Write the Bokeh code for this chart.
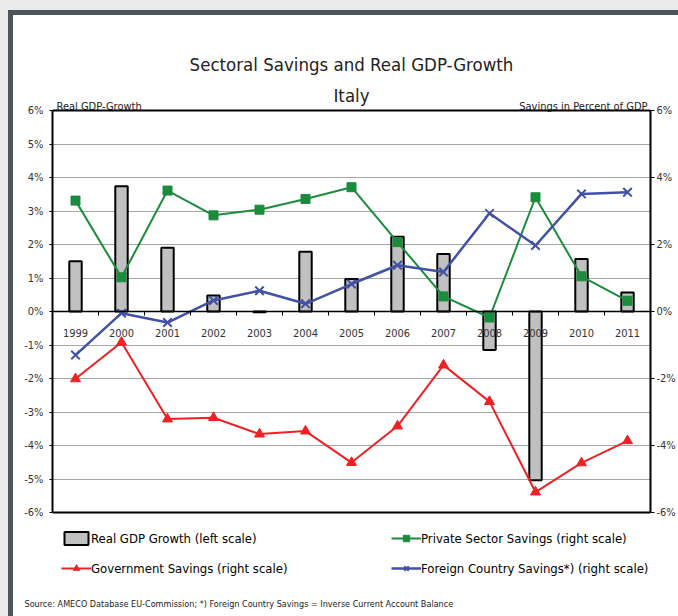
from bokeh.plotting import figure
from bokeh.models import (Range1d, LinearAxis, FixedTicker, Label, Legend,
                          LegendItem, Span)
from bokeh.embed import file_html
from bokeh.resources import INLINE

# ---------------- data ----------------
years = ["1999", "2000", "2001", "2002", "2003", "2004", "2005",
         "2006", "2007", "2008", "2009", "2010", "2011"]
gdp_growth = [1.50, 3.74, 1.90, 0.48, -0.02, 1.78, 0.97, 2.23, 1.72, -1.15, -5.04, 1.57, 0.57]
private_savings = [3.31, 1.02, 3.61, 2.87, 3.04, 3.36, 3.71, 2.07, 0.45, -0.18, 3.41, 1.05, 0.32]
government_savings = [-2.01, -0.92, -3.21, -3.17, -3.66, -3.57, -4.51, -3.42, -1.60, -2.69, -5.39, -4.52, -3.86]
foreign_savings = [-1.30, -0.05, -0.33, 0.33, 0.62, 0.23, 0.82, 1.38, 1.18, 2.93, 1.97, 3.51, 3.56]

left_ticks = [-6, -5, -4, -3, -2, -1, 0, 1, 2, 3, 4, 5, 6]
left_tick_labels = ["-6%", "-5%", "-4%", "-3%", "-2%", "-1%", "0%", "1%", "2%", "3%", "4%", "5%", "6%"]
right_ticks = [-6, -4, -2, 0, 2, 4, 6]
right_tick_labels = ["-6%", "-4%", "-2%", "0%", "2%", "4%", "6%"]

title_text = "Sectoral Savings and Real GDP-Growth"
subtitle_text = "Italy"
left_title = "Real GDP-Growth"
right_title = "Savings in Percent of GDP"
source_text = "Source: AMECO Database EU-Commission; *) Foreign Country Savings = Inverse Current Account Balance"

FONT = "DejaVu Sans Condensed"
GREEN = "#1a8c3c"
RED = "#ee2226"
BLUE = "#4051a6"

# layout (pixels): plot box 110..512 for -6..6, frame extended below for the legend
PX = 12.0 / 402.0
FRAME_TOP_PAD = 2
FRAME_BOTTOM_EXT = 70
Y_LO = -6 - FRAME_BOTTOM_EXT * PX
Y_HI = 6 + FRAME_TOP_PAD * PX

xs = list(range(len(years)))

p = figure(width=678, height=616,
           x_range=Range1d(-0.5, len(years) - 0.5), y_range=Range1d(Y_LO, Y_HI),
           x_axis_location=None,
           output_backend="svg", toolbar_location=None,
           min_border_left=52, min_border_right=28,
           min_border_top=108, min_border_bottom=34,
           background_fill_color="white", border_fill_alpha=0,
           outline_line_alpha=0)
p.styles = {"background-color": "white",
            "box-shadow": "inset 8px 10px 0 0 #ebeaea, inset 13px 15px 0 0 #4b545c"}
p.extra_y_ranges = {"right": Range1d(Y_LO, Y_HI)}

# left axis
ya = p.yaxis[0]
ya.bounds = (-6, 6)
ya.ticker = FixedTicker(ticks=left_ticks)
ya.major_label_overrides = {t: l for t, l in zip(left_ticks, left_tick_labels)}
ya.major_tick_in = 0
ya.major_tick_out = 3
ya.minor_tick_in = 0
ya.minor_tick_out = 0
ya.axis_line_color = "black"
ya.axis_line_width = 2
ya.major_label_standoff = 6
ya.major_label_text_font = FONT
ya.major_label_text_font_size = "11px"
ya.major_label_text_color = "#333333"

# right axis
ra = LinearAxis(y_range_name="right", ticker=FixedTicker(ticks=right_ticks), bounds=(-6, 6))
ra.major_label_overrides = {t: l for t, l in zip(right_ticks, right_tick_labels)}
ra.major_tick_in = 0
ra.major_tick_out = 4
ra.minor_tick_out = 0
ra.minor_tick_in = 0
ra.axis_line_color = "black"
ra.axis_line_width = 2
ra.major_label_standoff = 2
ra.major_label_text_font = FONT
ra.major_label_text_font_size = "11px"
ra.major_label_text_color = "#333333"
p.add_layout(ra, "right")

# horizontal grid only
for g in p.grid:
    if g.dimension == 0:
        g.visible = False
    else:
        g.grid_line_color = "#a6a6a6"
        g.grid_line_width = 1

# top and bottom edges of the plot box
p.add_layout(Span(location=6, dimension="width", line_color="black", line_width=2))
p.add_layout(Span(location=-6, dimension="width", line_color="black", line_width=2))

# bars
bars = p.vbar(x=xs, top=gdp_growth, bottom=0, width=0.27,
              fill_color="#c0c0c0", line_color="black", line_width=2)

# lines
g_line = p.line(xs, private_savings, line_color=GREEN, line_width=2, y_range_name="right")
g_pts = p.scatter(xs, private_savings, marker="square", size=9, fill_color=GREEN,
                  line_color=GREEN, y_range_name="right")
r_line = p.line(xs, government_savings, line_color=RED, line_width=2, y_range_name="right")
r_pts = p.scatter(xs, government_savings, marker="triangle", size=10, fill_color=RED,
                  line_color=RED, y_range_name="right")
b_line = p.line(xs, foreign_savings, line_color=BLUE, line_width=2.5, y_range_name="right")
b_pts = p.scatter(xs, foreign_savings, marker="x", size=12, line_color=BLUE,
                  line_width=2, y_range_name="right")

# legend (two columns under the plot box)
legend = Legend(items=[
    LegendItem(label="Real GDP Growth (left scale)", renderers=[bars]),
    LegendItem(label="Private Sector Savings (right scale)", renderers=[g_line, g_pts]),
    LegendItem(label="Government Savings (right scale)", renderers=[r_line, r_pts]),
    LegendItem(label="Foreign Country Savings*) (right scale)", renderers=[b_line, b_pts]),
], orientation="horizontal", ncols=2, location=(9, 6))
legend.border_line_alpha = 0
legend.background_fill_alpha = 0
legend.padding = 0
legend.margin = 0
legend.spacing = 14
legend.label_height = 16
legend.glyph_height = 16
legend.glyph_width = 30
legend.label_width = 286
legend.label_standoff = 0
legend.label_text_font = FONT
legend.label_text_font_size = "13px"
legend.label_text_color = "black"
p.add_layout(legend)

# category axis on the zero line
xa = LinearAxis(fixed_location=0,
                ticker=FixedTicker(ticks=xs, minor_ticks=[i + 0.5 for i in range(len(years) - 1)]))
xa.major_label_overrides = {i: y for i, y in zip(xs, years)}
xa.major_tick_in = 0
xa.major_tick_out = 0
xa.minor_tick_in = 0
xa.minor_tick_out = 4
xa.minor_tick_line_color = "black"
xa.minor_tick_line_width = 1
xa.axis_line_color = "black"
xa.axis_line_width = 1.5
xa.major_label_standoff = 13
xa.major_label_text_font = FONT
xa.major_label_text_font_size = "11px"
xa.major_label_text_color = "#333333"
p.add_layout(xa, "below")

# texts (absolute canvas positions, kept in the top panel so they are not clipped)
for txt, x, y, align, size in [
        (left_title, 56, 106, "left", "11px"),
        (right_title, 647, 106, "right", "11px"),
        (subtitle_text, 351, 95, "center", "18.5px"),
        (title_text, 351, 64, "center", "18.5px"),
        (source_text, 24, 603, "left", "9px")]:
    p.add_layout(Label(x=x, y=y, x_units="canvas", y_units="canvas", text=txt,
                       text_align=align, text_baseline="alphabetic", text_font=FONT,
                       text_font_size=size, text_color="#222222"), "above")

open("out.html", "w").write(file_html(p, INLINE, title="Sectoral Savings and Real GDP-Growth"))
